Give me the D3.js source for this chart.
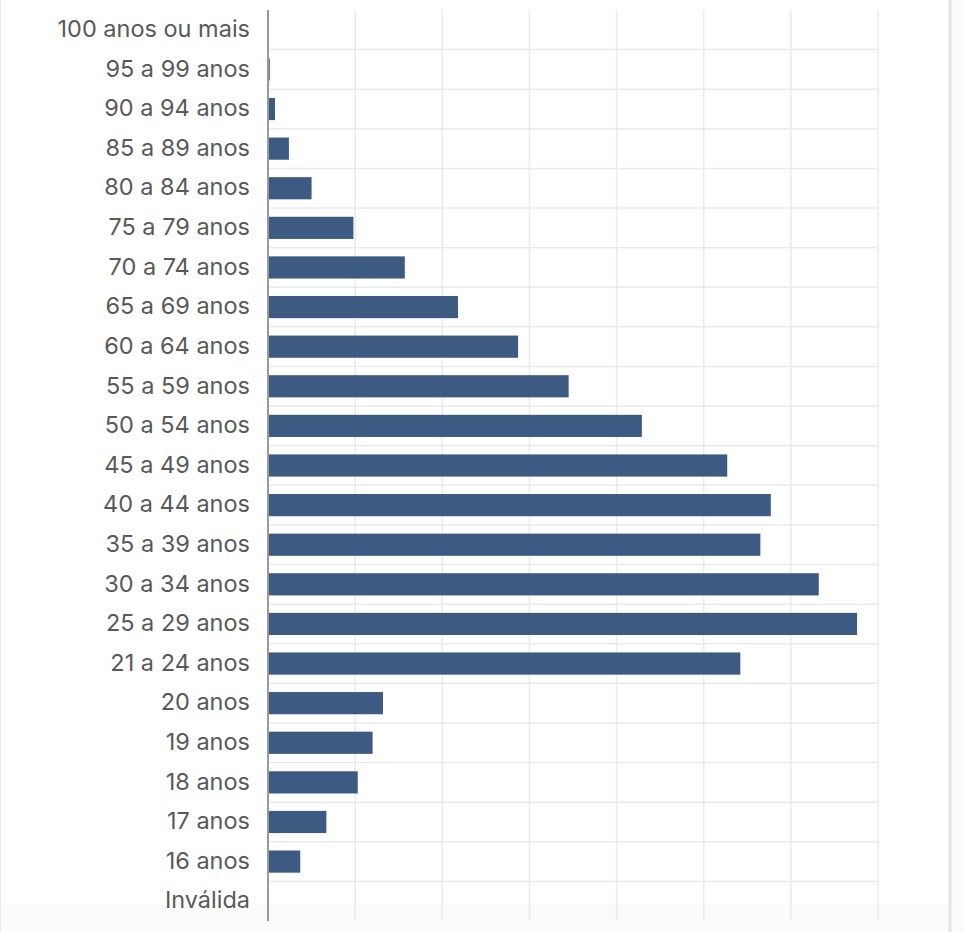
<!DOCTYPE html>
<html>
<head>
<meta charset="utf-8">
<script src="https://cdn.jsdelivr.net/npm/d3@7"></script>
<style>
  body { margin: 0; background: #fff; }
  svg { display: block; }
</style>
</head>
<body>
<svg id="chart" width="964" height="932"></svg>
<script>
// Age groups, top to bottom
var categories = [
    "100 anos ou mais", "95 a 99 anos", "90 a 94 anos", "85 a 89 anos",
    "80 a 84 anos", "75 a 79 anos", "70 a 74 anos", "65 a 69 anos",
    "60 a 64 anos", "55 a 59 anos", "50 a 54 anos", "45 a 49 anos",
    "40 a 44 anos", "35 a 39 anos", "30 a 34 anos", "25 a 29 anos",
    "21 a 24 anos", "20 anos", "19 anos", "18 anos", "17 anos",
    "16 anos", "Inválida"
];
// Values in gridline units (no tick labels shown in the picture)
var values = [
    0, 0.02, 0.08, 0.24, 0.5, 0.98, 1.57, 2.18, 2.87, 3.45, 4.29, 5.27,
    5.77, 5.65, 6.32, 6.76, 5.42, 1.32, 1.2, 1.03, 0.67, 0.37, 0
];
var gridTicks = [0, 1, 2, 3, 4, 5, 6, 7];

var data = categories.map(function(c, i) { return { cat: c, val: values[i] }; });

var svg = d3.select("#chart");

// card border / page background
svg.append("rect").attr("x", 0).attr("y", 0).attr("width", 964).attr("height", 932).attr("fill", "#fbfbfb");
svg.append("rect").attr("x", 1).attr("y", 0).attr("width", 948).attr("height", 904).attr("fill", "#fff");
svg.append("line").attr("x1", 950).attr("x2", 950).attr("y1", 0).attr("y2", 932)
    .attr("stroke", "#e4e4e4").attr("stroke-width", 3);
svg.append("line").attr("x1", 0.5).attr("x2", 0.5).attr("y1", 0).attr("y2", 932)
    .attr("stroke", "#ececec").attr("stroke-width", 1);

var x = d3.scaleLinear().domain([0, 7]).range([268, 878]);
var y = d3.scaleBand().domain(categories).range([10, 921]).paddingInner(0.44).paddingOuter(0.22);
var step = y.step();

// vertical gridlines
svg.append("g").selectAll("line")
    .data(gridTicks.slice(1))
  .enter().append("line")
    .attr("x1", function(d) { return x(d); })
    .attr("x2", function(d) { return x(d); })
    .attr("y1", 10).attr("y2", 921)
    .attr("stroke", "#e8eaee").attr("stroke-width", 1.5);

// horizontal gridlines between categories
svg.append("g").selectAll("line")
    .data(categories.slice(1))
  .enter().append("line")
    .attr("x1", x(0)).attr("x2", x(7))
    .attr("y1", function(d) { return y(d) - (step - y.bandwidth()) / 2; })
    .attr("y2", function(d) { return y(d) - (step - y.bandwidth()) / 2; })
    .attr("stroke", "#e8eaee").attr("stroke-width", 1.5);

// bars
svg.append("g").selectAll("rect")
    .data(data)
  .enter().append("rect")
    .attr("x", x(0))
    .attr("y", function(d) { return y(d.cat); })
    .attr("width", function(d) { return x(d.val) - x(0); })
    .attr("height", y.bandwidth())
    .attr("fill", "#3c5a82");

// y axis line
svg.append("line").attr("x1", x(0)).attr("x2", x(0)).attr("y1", 10).attr("y2", 921)
    .attr("stroke", "#999").attr("stroke-width", 2);

// labels
svg.append("g").selectAll("text")
    .data(categories)
  .enter().append("text")
    .attr("x", 250)
    .attr("y", function(d) { return y(d) + y.bandwidth() / 2 - 1; })
    .attr("dy", "0.35em")
    .attr("text-anchor", "end")
    .attr("font-family", "Inter, Roboto, sans-serif")
    .attr("font-size", 23.5)
    .attr("fill", "#595959")
    .text(function(d) { return d; });
</script>
</body>
</html>
